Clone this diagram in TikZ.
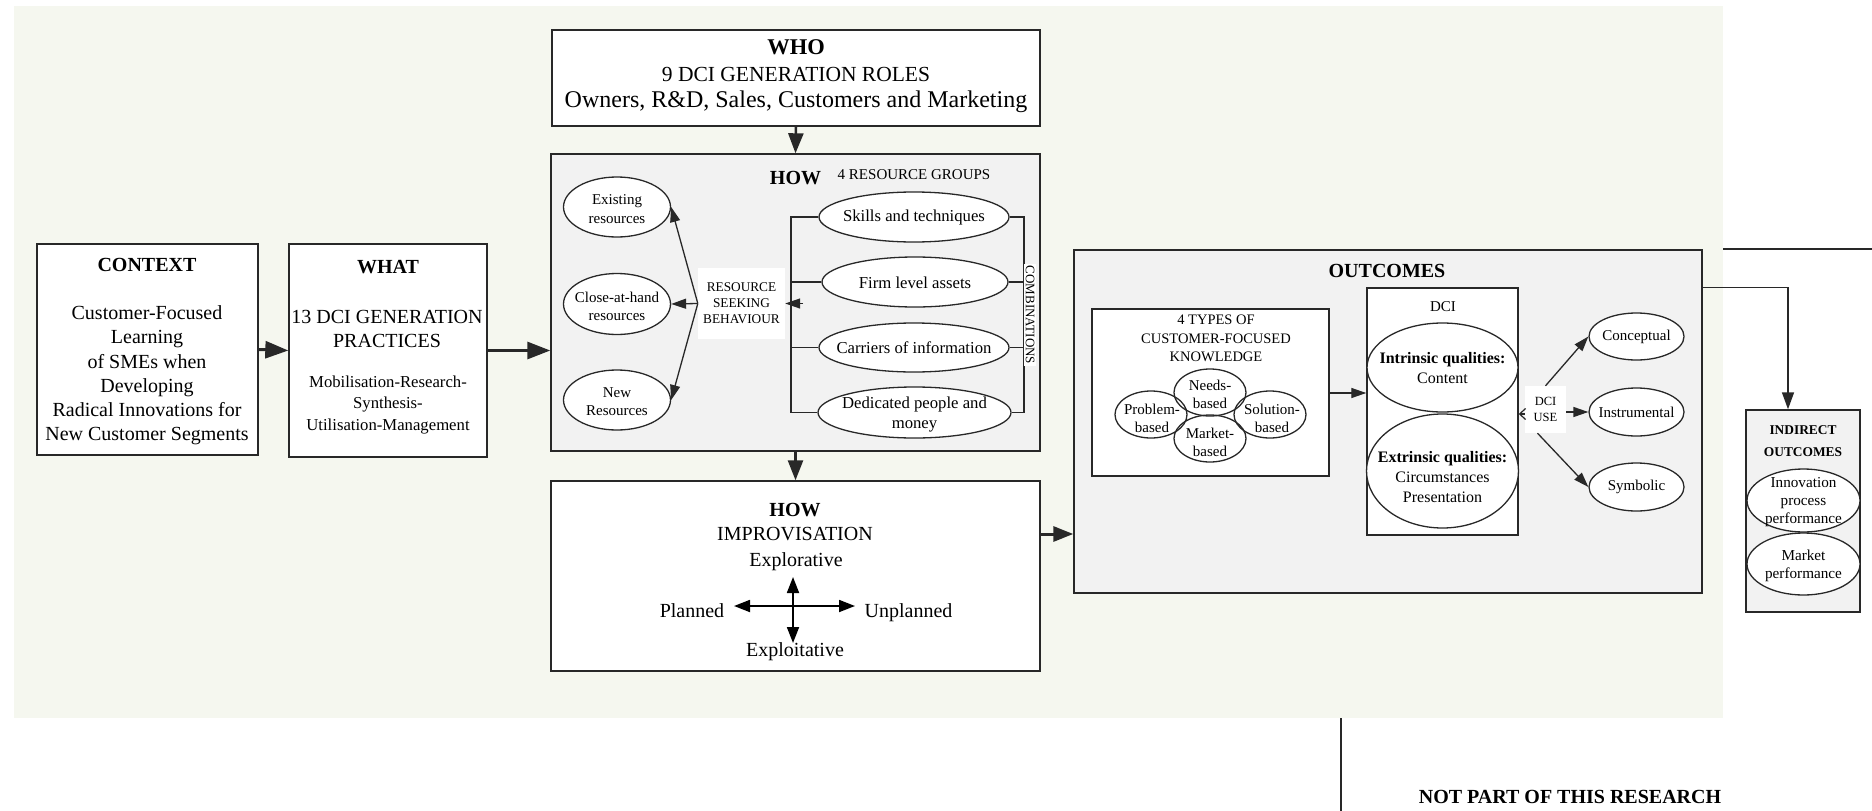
\documentclass[tikz,border=0pt]{standalone}
\usepackage{fontspec}
\setmainfont{Liberation Serif}
\usetikzlibrary{arrows.meta,shapes.geometric}
\definecolor{bgc}{RGB}{245,247,239}
\definecolor{boxg}{RGB}{242,242,242}
\definecolor{lnc}{RGB}{40,40,40}
\newcommand\fsz[2]{\fontsize{#1}{#2}\selectfont}
\begin{document}
\begin{tikzpicture}[x=1pt,y=-1pt,
  box/.style={draw=lnc, line width=1.4pt, fill=white, inner sep=0pt},
  gbox/.style={box, fill=boxg},
  ell/.style={draw=lnc, ellipse, line width=1.3pt, fill=white, inner sep=0pt},
  oell/.style={ell, fill=none},
  txt/.style={inner sep=0pt, align=center},
  bigarr/.style={draw=lnc, line width=3pt, -{Triangle[length=23pt,width=17pt]}},
  midarr/.style={draw=lnc, line width=2.5pt, -{Triangle[length=20pt,width=15pt]}},
  thinarr/.style={draw=lnc, line width=1.3pt, -{Triangle[length=15pt,width=10pt]}},
  crossarr/.style={draw=black, line width=1.8pt, {Triangle[length=16pt,width=12pt]}-{Triangle[length=16pt,width=12pt]}},
  ln/.style={draw=lnc, line width=1.3pt},
]
\useasboundingbox (0,0) rectangle (1872,811);
\fill[bgc] (14,6) rectangle (1723,718);

% ---------- WHO ----------
\node[box, minimum width=488pt, minimum height=96pt] (who) at (796,78) {};
\node[txt, font=\fsz{22.5}{27}\bfseries] (whoA) at (796,47.5) {WHO};
\node[txt, font=\fsz{21.5}{26}] (whoB) at (796,74) {9 DCI GENERATION ROLES};
\node[txt, font=\fsz{24}{29}] (whoC) at (796,101.5) {Owners, R\&D, Sales, Customers and Marketing};

% ---------- CONTEXT ----------
\node[box, minimum width=221pt, minimum height=211pt] (ctx) at (147.5,349.5) {};
\node[txt, font=\fsz{20}{24}\bfseries] (ctxA) at (147,265) {CONTEXT};
\node[txt, font=\fsz{20}{24.2}] (ctxB) at (147,375.5) {Customer-Focused\\Learning\\of SMEs when\\Developing\\Radical Innovations for\\New Customer Segments};

% ---------- WHAT ----------
\node[box, minimum width=198pt, minimum height=213pt] (what) at (388,350.5) {};
\node[txt, font=\fsz{20}{24}\bfseries] (whatA) at (388,267) {WHAT};
\node[txt, font=\fsz{20}{24}] (whatB) at (387,329) {13 DCI GENERATION\\PRACTICES};
\node[txt, font=\fsz{16.7}{21.5}] (whatC) at (388,405) {Mobilisation-Research-\\Synthesis-\\Utilisation-Management};

% ---------- HOW (resources) ----------
\node[gbox, minimum width=489pt, minimum height=297pt] (how) at (795.5,302.5) {};
\node[txt, font=\fsz{20}{24}\bfseries] (howA) at (795.5,178) {HOW};
\node[txt, font=\fsz{15}{18}] (rg) at (914,175) {4 RESOURCE GROUPS};

\node[ell, minimum width=107pt, minimum height=60pt] (ex) at (617,207) {};
\node[txt, font=\fsz{15}{18.5}] (exT) at (617,209) {Existing\\resources};
\node[ell, minimum width=107pt, minimum height=61pt] (ca) at (617,304) {};
\node[txt, font=\fsz{15}{18.5}] (caT) at (617,306.5) {Close-at-hand\\resources};
\node[ell, minimum width=107pt, minimum height=60pt] (nr) at (617,400) {};
\node[txt, font=\fsz{15}{18.5}] (nrT) at (617,401.5) {New\\Resources};

\node[txt, fill=white, minimum width=87pt, minimum height=71pt, font=\fsz{13.3}{16}] (rsb) at (741.5,303.5) {RESOURCE\\SEEKING\\BEHAVIOUR};

\draw[thinarr] (rsb.west) -- (ex.east);
\draw[thinarr] (rsb.west) -- (ca.east);
\draw[thinarr] (rsb.west) -- (nr.east);

\node[ell, minimum width=190pt, minimum height=50pt] (sk) at (914,217) {};
\node[txt, font=\fsz{16.7}{20}] (skT) at (914,217.5) {Skills and techniques};
\node[ell, minimum width=186pt, minimum height=50pt] (fa) at (915,282) {};
\node[txt, font=\fsz{16.7}{20}] (faT) at (915,282.5) {Firm level assets};
\node[ell, minimum width=190pt, minimum height=49pt] (ci) at (914,347.5) {};
\node[txt, font=\fsz{16.7}{20}] (ciT) at (914,347.5) {Carriers of information};
\node[ell, minimum width=193pt, minimum height=51pt] (dp) at (914.5,412.5) {};
\node[txt, font=\fsz{16.7}{20}] (dpT) at (914.5,414.5) {Dedicated people and\\money};

\coordinate (lb1) at (791,217);
\coordinate (rb1) at (1024,217);
\draw[ln] (sk.west) -- (lb1) -- (lb1 |- dp.west) -- (dp.west);
\draw[ln] (fa.west) -- (fa.west -| lb1);
\draw[ln] (ci.west) -- (ci.west -| lb1);
\draw[ln] (sk.east) -- (rb1) -- (rb1 |- dp.east) -- (dp.east);
\draw[ln] (fa.east) -- (fa.east -| rb1);
\draw[ln] (ci.east) -- (ci.east -| rb1);
\draw[thinarr] ([xshift=18pt]rsb.east) -- (rsb.east);
\node[txt, fill=white, inner sep=1.5pt, rotate=-90, font=\fsz{13}{15}] (comb) at (1030,315) {COMBINATIONS};

% ---------- HOW (improvisation) ----------
\node[box, minimum width=489pt, minimum height=190pt] (how2) at (795.5,576) {};
\node[txt, font=\fsz{20}{24}\bfseries] (how2A) at (795,510) {HOW};
\node[txt, font=\fsz{20}{24}] (how2B) at (795,534) {IMPROVISATION};
\node[txt, font=\fsz{20}{24}] (explo) at (796,562) {Explorative};
\node[txt, font=\fsz{20}{24}] (exploi) at (795,651.5) {Exploitative};
\node[txt, font=\fsz{20}{24}] (plan) at (692,611) {Planned};
\node[txt, font=\fsz{20}{24}] (unplan) at (908.5,612.5) {Unplanned};
\coordinate (cN) at (793,577);
\coordinate (cS) at (793,643);
\coordinate (cW) at (734,606);
\coordinate (cE) at (855,606);
\draw[crossarr] (cN) -- (cS);
\draw[crossarr] (cW) -- (cE);

% ---------- OUTCOMES ----------
\node[gbox, minimum width=628pt, minimum height=343pt] (out) at (1388,421.5) {};
\node[txt, font=\fsz{20}{24}\bfseries] (outA) at (1387,271) {OUTCOMES};

\node[box, minimum width=237pt, minimum height=167pt] (kt) at (1210.5,392.5) {};
\node[txt, font=\fsz{14.5}{18.5}] (ktT) at (1216,338.5) {4 TYPES OF\\CUSTOMER-FOCUSED\\KNOWLEDGE};
\node[oell, minimum width=72pt, minimum height=47pt] (pb) at (1151,414.5) {};
\node[oell, minimum width=72pt, minimum height=47pt] (nb) at (1210,392.5) {};
\node[oell, minimum width=72pt, minimum height=47pt] (sb) at (1270,414.5) {};
\node[oell, minimum width=72pt, minimum height=47pt] (mb) at (1210,438.5) {};
\node[txt, font=\fsz{15}{18}] (pbT) at (1152,418) {Problem-\\based};
\node[txt, font=\fsz{15}{18}] (nbT) at (1210,394.5) {Needs-\\based};
\node[txt, font=\fsz{15}{18}] (sbT) at (1272,418) {Solution-\\based};
\node[txt, font=\fsz{15}{18}] (mbT) at (1210,442) {Market-\\based};

\node[box, minimum width=151pt, minimum height=247pt] (dci) at (1442.5,411.5) {};
\node[txt, font=\fsz{15}{18}] (dciT) at (1443,307) {DCI};
\node[ell, minimum width=151pt, minimum height=89pt] (iq) at (1442.5,367.5) {};
\node[txt, font=\fsz{16}{20}] (iqT) at (1442.5,368) {\textbf{Intrinsic qualities:}\\Content};
\node[ell, minimum width=152pt, minimum height=114pt] (eq) at (1442.5,471) {};
\node[txt, font=\fsz{16}{20}] (eqT) at (1442.5,477.5) {\textbf{Extrinsic qualities:}\\Circumstances\\Presentation};

\draw[thinarr] (kt.east |- 0,393) -- (dci.west |- 0,393);

\node[txt, fill=white, minimum width=41pt, minimum height=47pt, font=\fsz{12.5}{16}] (use) at (1545.5,409.5) {DCI\\USE};
\draw[draw=lnc, line width=1.2pt, -{Straight Barb[length=6pt,width=11pt]}] (use.west |- 0,414) -- (dci.east |- 0,414);

\node[ell, minimum width=95pt, minimum height=47pt] (conc) at (1636.5,336.5) {};
\node[txt, font=\fsz{15}{18}] (concT) at (1636.5,336.5) {Conceptual};
\node[ell, minimum width=95pt, minimum height=48pt] (inst) at (1636.5,412) {};
\node[txt, font=\fsz{15}{18}] (instT) at (1636.5,412) {Instrumental};
\node[ell, minimum width=95pt, minimum height=48pt] (symb) at (1636.5,487) {};
\node[txt, font=\fsz{15}{18}] (symbT) at (1636.5,487) {Symbolic};
\draw[thinarr] (use.north) -- (conc.west);
\draw[thinarr] (use.east |- inst.west) -- (inst.west);
\draw[thinarr] ([xshift=-8pt]use.south) -- (symb.west);

% ---------- INDIRECT OUTCOMES ----------
\node[gbox, minimum width=114pt, minimum height=202pt] (ind) at (1803,511) {};
\node[txt, font=\fsz{13.4}{22}\bfseries] (indT) at (1803,441.5) {INDIRECT\\OUTCOMES};
\node[ell, minimum width=113pt, minimum height=63pt] (ipp) at (1803.5,500.5) {};
\node[txt, font=\fsz{15.2}{18}] (ippT) at (1803.5,502) {Innovation\\process\\performance};
\node[ell, minimum width=113pt, minimum height=62pt] (mp) at (1803.5,564) {};
\node[txt, font=\fsz{15.2}{18}] (mpT) at (1803.5,565.5) {Market\\performance};

% ---------- main connectors ----------
\draw[bigarr] (ctx.east) -- (what.west);
\draw[bigarr] (what.east) -- (how.west |- what.east);
\draw[midarr] (who.south) -- (how.north);
\draw[midarr] (how.south) -- (how2.north);
\draw[draw=lnc, line width=3pt, -{Triangle[length=20pt,width=15pt]}] ([yshift=42pt]how2.east) -- (out.west |- 0,534);
\draw[draw=lnc, line width=1.5pt, -{Triangle[length=17pt,width=12pt]}] ([yshift=-38pt]out.north east) -| ([xshift=-15pt]ind.north);

% ---------- not part of this research ----------
\coordinate (tr1) at (1723,249);
\coordinate (tr2) at (1872,249);
\coordinate (vl1) at (1341,718);
\coordinate (vl2) at (1341,811);
\draw[ln] (tr1) -- (tr2);
\draw[ln] (vl1) -- (vl2);
\node[txt, font=\fsz{20}{24}\bfseries] (npr) at (1570,797) {NOT PART OF THIS RESEARCH};
\end{tikzpicture}
\end{document}
